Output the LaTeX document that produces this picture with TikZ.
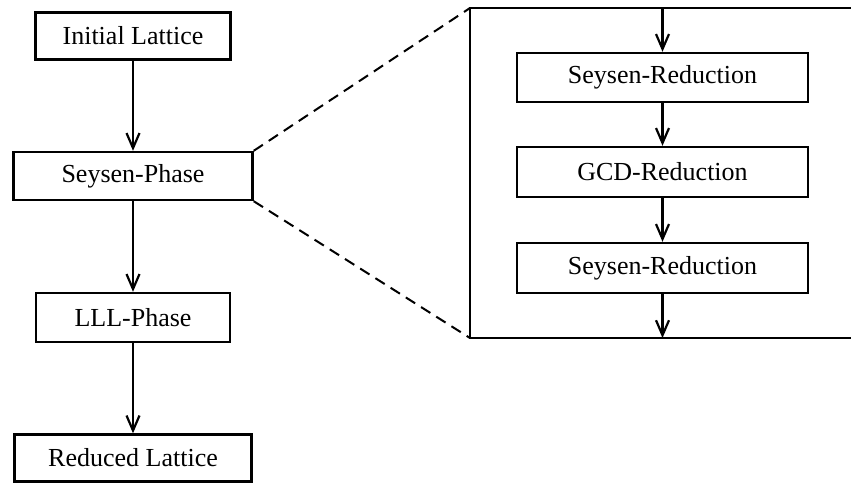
\documentclass[tikz,border=0pt]{standalone}
\usepackage{fontspec}
\setmainfont{Liberation Serif}
\usetikzlibrary{arrows.meta}

\begin{document}
\begin{tikzpicture}[x=1pt, y=-1pt, line width=2.4pt,
        phasebox/.style={draw, rectangle, inner sep=0pt, minimum height=47pt, font=\fontsize{26}{31}\selectfont},
        flow/.style={-{Straight Barb[length=15pt, width=13pt, line width=2.2pt]}},
        zoomline/.style={line width=2pt, dash pattern=on 11pt off 7pt}]
        \useasboundingbox (0,0) rectangle (851,483);

        % Main chain
        \node[phasebox, minimum width=195pt] (init) at (133,36) {Initial Lattice};
        \node[phasebox, minimum width=239pt, minimum height=48pt] (seysen) at (133,176) {Seysen-Phase};
        \node[phasebox, minimum width=194pt, minimum height=49pt] (lll) at (133,317.5) {LLL-Phase};
        \node[phasebox, minimum width=237pt] (reduced) at (133,458) {Reduced Lattice};

        \draw[flow] (init) -- (seysen);
        \draw[flow] (seysen) -- (lll);
        \draw[flow] (lll) -- (reduced);

        % Zoomed frame (open to the right)
        \coordinate (zoomtl) at (470,8);
        \coordinate (zoombl) at (470,338);
        \draw (852,8) -- (zoomtl) -- (zoombl) -- (852,338);
        \draw[zoomline] (seysen.north east) -- (zoomtl);
        \draw[zoomline] (seysen.south east) -- (zoombl);

        % Inner steps
        \node[phasebox, minimum width=291pt, minimum height=49pt] (red1) at (662.5,77.5) {Seysen-Reduction};
        \node[phasebox, minimum width=291pt, minimum height=50pt] (gcd) at (662.5,172) {GCD-Reduction};
        \node[phasebox, minimum width=291pt, minimum height=50pt] (red2) at (662.5,268) {Seysen-Reduction};
        \coordinate (zoomin) at (662.5,8);
        \coordinate (zoomout) at (662.5,338);

        \draw[flow] (zoomin) -- (red1);
        \draw[flow] (red1) -- (gcd);
        \draw[flow] (gcd) -- (red2);
        \draw[flow] (red2) -- (zoomout);
    \end{tikzpicture}
\end{document}
